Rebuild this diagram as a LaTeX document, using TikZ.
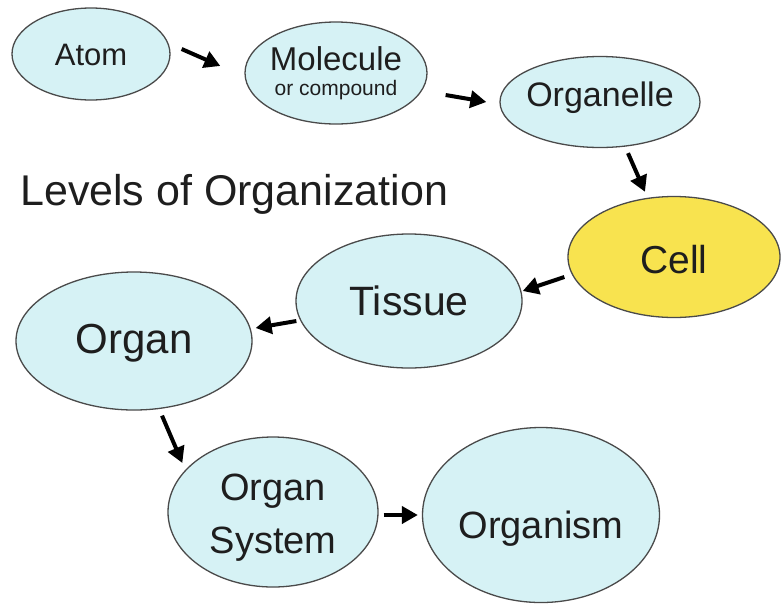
\documentclass[tikz,border=0pt]{standalone}
\usepackage{fontspec}
\setmainfont{Liberation Sans}
\usetikzlibrary{shapes.geometric,arrows.meta}
\definecolor{skyfill}{HTML}{D6F2F5}
\definecolor{cellfill}{HTML}{F8E34F}
\definecolor{rimgray}{HTML}{4A4A4A}
\definecolor{inkgray}{HTML}{1E1E1E}
\newcommand\fsz[1]{\fontsize{#1}{#1}\selectfont}

\begin{document}
\begin{tikzpicture}[x=1pt,y=-1pt,
    level/.style={ellipse,draw=rimgray,line width=1.3pt,fill=skyfill,text=inkgray,
        inner xsep=-10pt,inner ysep=0pt,text depth=0pt},
    arr/.style={-{Triangle[length=16pt,width=17pt]},line width=4pt,black}]
    \useasboundingbox (0,0) rectangle (781,606);

    % levels
    \node[level,minimum width=158pt,minimum height=92pt,font=\fsz{31},text height=22pt] (atom) at (91,54) {Atom};
    \node[level,minimum width=182pt,minimum height=102pt,font=\fsz{33},align=center,
        text height=44pt] (molecule) at (336,73) {Molecule\\[-8pt]{\fsz{21}or compound}};
    \node[level,minimum width=200pt,minimum height=91pt,font=\fsz{34},text height=8pt] (organelle) at (600,102) {Organelle};
    \node[level,fill=cellfill,minimum width=212pt,minimum height=121pt,font=\fsz{39},text height=32pt] (cell) at (674,257) {Cell};
    \node[level,minimum width=226pt,minimum height=134pt,font=\fsz{41},text height=28pt] (tissue) at (409,301) {Tissue};
    \node[level,minimum width=236pt,minimum height=138pt,font=\fsz{42},text height=24pt] (organ) at (134,341) {Organ};
    \node[level,minimum width=210pt,minimum height=150pt,font=\fsz{38},align=center,
        text height=82pt] (system) at (273,512) {Organ\\[15pt]System};
    \node[level,minimum width=237pt,minimum height=175pt,font=\fsz{38},text height=46pt] (organism) at (541,515) {Organism};

    % title
    \node[anchor=base west,font=\fsz{43},text=inkgray,inner sep=0pt] (title) at (20,205) {Levels of Organization};

    % arrows
    \draw[arr] ([shift={(11,-5)}]atom.east) -- ([shift={(-24,-7)}]molecule.west);
    \draw[arr] ([shift={(18,22)}]molecule.east) -- ([shift={(-13,0)}]organelle.west);
    \draw[arr] ([shift={(28,5)}]organelle.south) -- ([shift={(-29,-4)}]cell.north);
    \draw[arr] ([shift={(-3,20)}]cell.west) -- ([shift={(0,-10)}]tissue.east);
    \draw[arr] ([shift={(1,20)}]tissue.west) -- ([shift={(3,-13)}]organ.east);
    \draw[arr] ([shift={(28,5)}]organ.south) -- ([shift={(15,-49)}]system.west);
    \draw[arr] ([shift={(5,3)}]system.east) -- ([shift={(-4,0)}]organism.west);
\end{tikzpicture}
\end{document}
